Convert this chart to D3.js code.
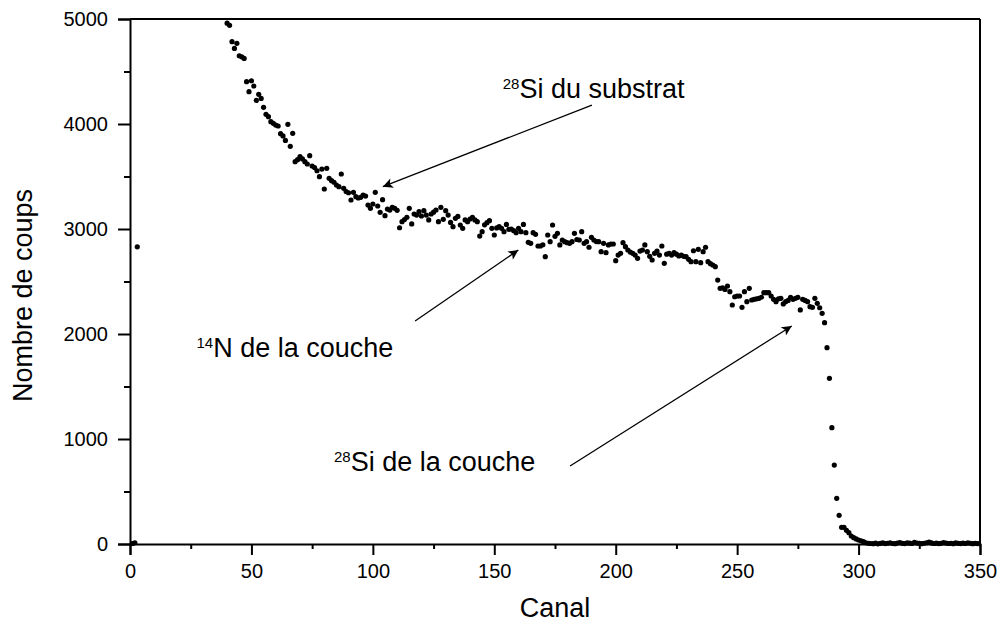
<!DOCTYPE html>
<html>
<head>
<meta charset="utf-8">
<script src="https://cdn.jsdelivr.net/npm/d3@7"></script>
<style>
  body { margin: 0; background: #fff; }
  svg { display: block; font-family: "Liberation Sans", Arial, sans-serif; }
</style>
</head>
<body>
<svg id="chart" width="1000" height="628"></svg>
<script>
// spectrum, counts per channel (channels 4-39 are above the 5000 scale)
const lowStart = 1;
const lowCounts = [5, 12, 2830];

const mainStart = 40;
const mainCounts = [
  4960, 4940, 4784, 4720, 4768, 4650, 4640, 4625, 4403, 4308,
  4412, 4362, 4225, 4283, 4244, 4159, 4092, 4070, 4022, 4006,
  3990, 3981, 3908, 3886, 3844, 3997, 3787, 3911, 3641, 3660,
  3689, 3667, 3641, 3619, 3698, 3600, 3585, 3555, 3498, 3571,
  3381, 3578, 3483, 3460, 3445, 3419, 3403, 3524, 3387, 3356,
  3345, 3276, 3349, 3308, 3295, 3302, 3324, 3314, 3228, 3197,
  3238, 3349, 3219, 3159, 3279, 3127, 3190, 3180, 3206, 3197,
  3178, 3012, 3070, 3090, 3111, 3197, 3048, 3143, 3133, 3165,
  3124, 3175, 3133, 3086, 3143, 3160, 3181, 3070, 3206, 3092,
  3175, 3133, 3063, 3022, 3102, 3120, 3038, 3006, 3086, 3070,
  3095, 3111, 3086, 3070, 2933, 2975, 3040, 3060, 3079, 3006,
  2943, 3010, 3022, 3006, 2975, 3044, 2997, 3000, 2984, 2965,
  3006, 2975, 3044, 2965, 2873, 2864, 2965, 2949, 2838, 2838,
  2850, 2736, 2943, 2879, 3038, 2930, 2959, 2848, 2895, 2879,
  2870, 2864, 2879, 2959, 2900, 2895, 2975, 2864, 2879, 2826,
  2921, 2895, 2880, 2879, 2784, 2864, 2775, 2848, 2857, 2857,
  2698, 2752, 2768, 2870, 2832, 2800, 2780, 2768, 2752, 2721,
  2790, 2800, 2848, 2784, 2740, 2705, 2768, 2790, 2752, 2838,
  2673, 2760, 2768, 2752, 2775, 2760, 2743, 2752, 2740, 2736,
  2711, 2689, 2793, 2689, 2806, 2679, 2784, 2826, 2689, 2670,
  2657, 2641, 2514, 2435, 2440, 2425, 2457, 2403, 2276, 2355,
  2362, 2362, 2254, 2403, 2308, 2435, 2324, 2330, 2335, 2340,
  2350, 2394, 2394, 2394, 2362, 2330, 2308, 2335, 2340, 2286,
  2308, 2320, 2349, 2330, 2340, 2349, 2229, 2330, 2320, 2308,
  2260, 2254, 2340, 2292, 2250, 2197, 2108, 1870, 1578, 1108,
  752, 435, 273, 159, 159, 130, 108, 76, 60, 48,
  38, 30, 22, 12, 7
];

const tailStart = 305;
const tailCounts = [
  5, 3, 8, 2, 6, 10, 4, 7, 12, 5,
  3, 9, 14, 6, 4, 11, 8, 5, 15, 9,
  6, 3, 7, 12, 18, 10, 5, 8, 4, 6,
  13, 9, 5, 7, 3, 10, 6, 4, 8, 5,
  11, 7, 3, 6, 4, 2
];

const xTicks = [0, 50, 100, 150, 200, 250, 300, 350];
const xMinorTicks = [25, 75, 125, 175, 225, 275, 325];
const yTicks = [0, 1000, 2000, 3000, 4000, 5000];
const yMinorTicks = [500, 1500, 2500, 3500, 4500];

// labels: [isotope, text, channel, counts] ; arrows: [fromCh, fromCounts, toCh, toCounts]
const labels = [
  ['28', 'Si du substrat', 153.5, 4250],
  ['14', 'N de la couche', 27.4, 1780],
  ['28', 'Si de la couche', 84.0, 700]
];
const arrows = [
  [190.2, 4180, 104.1, 3403],
  [117.4, 2124, 159.9, 2800],
  [181.2, 743, 272.5, 2076]
];

const margin = { top: 19, right: 20, bottom: 84, left: 130 };
const svg = d3.select('#chart');
const width = +svg.attr('width') - margin.left - margin.right;
const height = +svg.attr('height') - margin.top - margin.bottom;

const x = d3.scaleLinear().domain([0, 350]).range([0, width]);
const y = d3.scaleLinear().domain([0, 5000]).range([height, 0]);

const points = []
  .concat(lowCounts.map((v, i) => ({ ch: lowStart + i, v })))
  .concat(mainCounts.map((v, i) => ({ ch: mainStart + i, v })))
  .concat(tailCounts.map((v, i) => ({ ch: tailStart + i, v })));

svg.append('defs').append('marker')
  .attr('id', 'head')
  .attr('viewBox', '0 0 10 10')
  .attr('refX', 10).attr('refY', 5)
  .attr('markerWidth', 15).attr('markerHeight', 10)
  .attr('markerUnits', 'userSpaceOnUse')
  .attr('orient', 'auto')
  .append('path')
  .attr('d', 'M0,0 L10,5 L0,10 L2.5,5 Z')
  .attr('fill', '#000');

svg.select('defs').append('clipPath')
  .attr('id', 'plot-clip')
  .append('rect')
  .attr('x', -3).attr('y', 0)
  .attr('width', width + 3).attr('height', height + 3);

const g = svg.append('g')
  .attr('transform', `translate(${margin.left},${margin.top})`);

// dots
g.append('g')
  .attr('clip-path', 'url(#plot-clip)')
  .selectAll('circle')
  .data(points)
  .enter()
  .append('circle')
  .attr('cx', d => x(d.ch))
  .attr('cy', d => y(d.v))
  .attr('r', 2.6)
  .attr('fill', '#000');

// axes
g.append('g')
  .attr('class', 'x-axis')
  .attr('transform', `translate(0,${height})`)
  .call(d3.axisBottom(x).tickValues(xTicks).tickSize(11).tickPadding(9).tickFormat(d3.format('d')));

g.append('g')
  .attr('transform', `translate(0,${height})`)
  .call(d3.axisBottom(x).tickValues(xMinorTicks).tickSize(5).tickFormat(''))
  .select('.domain').remove();

g.append('g')
  .attr('class', 'y-axis')
  .call(d3.axisLeft(y).tickValues(yTicks).tickSize(12).tickPadding(10).tickFormat(d3.format('d')));

g.append('g')
  .call(d3.axisLeft(y).tickValues(yMinorTicks).tickSize(6).tickFormat(''))
  .select('.domain').remove();

g.selectAll('.tick line').attr('stroke', '#000').attr('stroke-width', 2);
g.selectAll('.domain').attr('stroke', '#000').attr('stroke-width', 2);
g.selectAll('.tick text')
  .attr('fill', '#000')
  .style('font-size', '20px')
  .style('font-family', '"Liberation Sans", Arial, sans-serif');

// frame top and right
g.append('line')
  .attr('x1', 0).attr('x2', width).attr('y1', 0).attr('y2', 0)
  .attr('stroke', '#000').attr('stroke-width', 2);
g.append('line')
  .attr('x1', width).attr('x2', width).attr('y1', 0).attr('y2', height)
  .attr('stroke', '#000').attr('stroke-width', 2);

// axis titles
g.append('text')
  .attr('x', width / 2)
  .attr('y', height + 73)
  .attr('text-anchor', 'middle')
  .style('font-size', '27px')
  .text('Canal');

g.append('text')
  .attr('transform', `translate(${-98},${height / 2 + 14}) rotate(-90)`)
  .attr('text-anchor', 'middle')
  .style('font-size', '27px')
  .text('Nombre de coups');

// annotations
const ann = g.append('g').attr('class', 'annotations');

ann.selectAll('line')
  .data(arrows)
  .enter()
  .append('line')
  .attr('x1', d => x(d[0]))
  .attr('y1', d => y(d[1]))
  .attr('x2', d => x(d[2]))
  .attr('y2', d => y(d[3]))
  .attr('stroke', '#000')
  .attr('stroke-width', 1.3)
  .attr('marker-end', 'url(#head)');

const lbl = ann.selectAll('text')
  .data(labels)
  .enter()
  .append('text')
  .attr('x', d => x(d[2]))
  .attr('y', d => y(d[3]))
  .style('font-size', '27px');

lbl.append('tspan')
  .attr('dy', -9)
  .style('font-size', '15px')
  .text(d => d[0]);

lbl.append('tspan')
  .attr('dy', 9)
  .text(d => d[1]);
</script>
</body>
</html>
